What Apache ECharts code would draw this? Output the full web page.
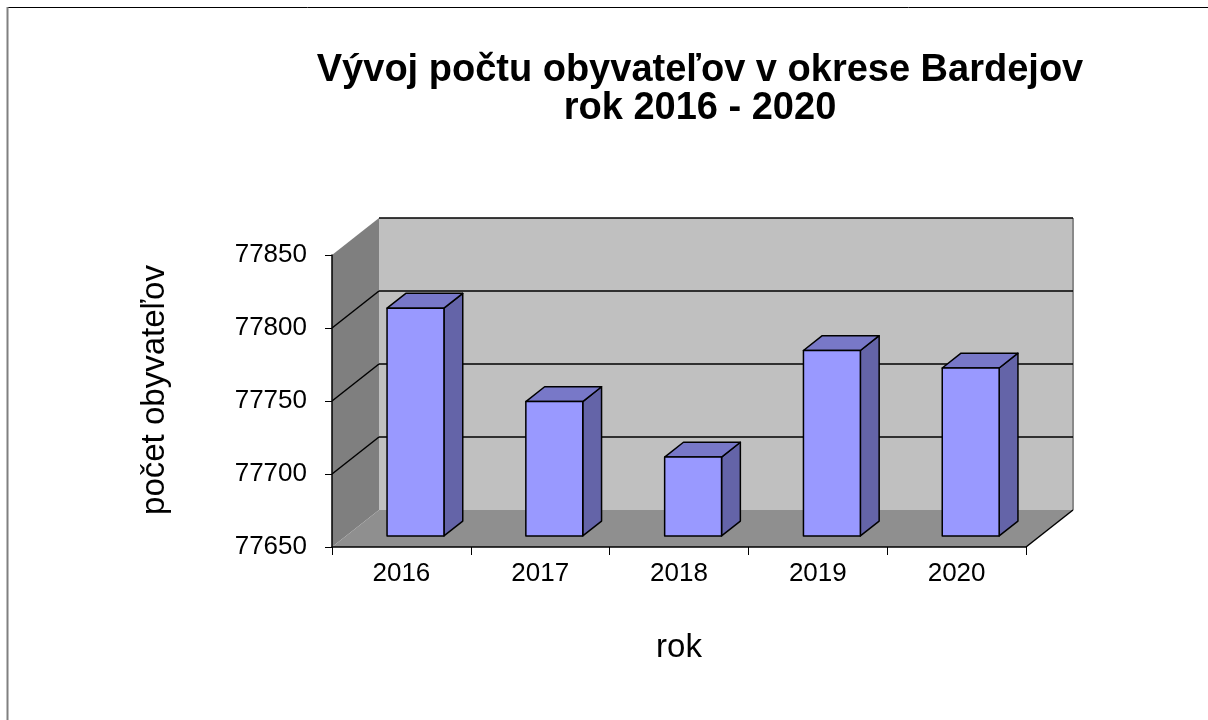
<!DOCTYPE html>
<html>
<head>
<meta charset="utf-8">
<script src="https://cdn.jsdelivr.net/npm/echarts@6/dist/echarts.min.js"></script>
<style>html,body{margin:0;padding:0;background:#fff}#c{width:1208px;height:720px}</style>
</head>
<body>
<div id="c"></div>
<script>
const titleLines = ['Vývoj počtu obyvateľov v okrese Bardejov', 'rok 2016 - 2020'];
const categories = ['2016', '2017', '2018', '2019', '2020'];
const values = [77806, 77742, 77704, 77777, 77765];
const yTicks = [77650, 77700, 77750, 77800, 77850];
const yName = 'počet obyvateľov';
const xName = 'rok';

const FONT = '"Liberation Sans", Arial, sans-serif';
const YMIN = yTicks[0], YMAX = yTicks[yTicks.length - 1];
const DX = 47, DY = -37;          // full depth offset of the 3D box
const F0 = 0.3, F1 = 0.7;         // bar depth range
const BARW = 0.41;                // bar width as fraction of band

const chart = echarts.init(document.getElementById('c'), null, { renderer: 'canvas' });

function wallsItem(params, api) {
  const band = api.size([1, 0])[0];
  const x0 = api.coord([0, YMIN])[0] - band / 2;
  const x1 = api.coord([categories.length - 1, YMIN])[0] + band / 2;
  const yB = api.coord([0, YMIN])[1];
  const yT = api.coord([0, YMAX])[1];
  const children = [];
  children.push({ type: 'polygon', shape: { points: [[x0, yT], [x0 + DX, yT + DY], [x0 + DX, yB + DY], [x0, yB]] }, style: { fill: '#7f7f7f' } });
  children.push({ type: 'polygon', shape: { points: [[x0 + DX, yT + DY], [x1 + DX, yT + DY], [x1 + DX, yB + DY], [x0 + DX, yB + DY]] }, style: { fill: '#c0c0c0' } });
  children.push({ type: 'polygon', shape: { points: [[x0, yB], [x0 + DX, yB + DY], [x1 + DX, yB + DY], [x1, yB]] }, style: { fill: '#8f8f8f' } });
  children.push({ type: 'line', shape: { x1: x1 + DX, y1: yT + DY, x2: x1 + DX, y2: yB + DY }, style: { stroke: '#8a8a8a', lineWidth: 2 } });
  yTicks.forEach(function (t) {
    if (t === YMIN) return;
    const y = api.coord([0, t])[1];
    children.push({ type: 'line', shape: { x1: x0 + DX, y1: y + DY, x2: x1 + DX, y2: y + DY }, style: { stroke: '#000', lineWidth: 1.5 } });
    if (t !== YMAX) {
      children.push({ type: 'line', shape: { x1: x0, y1: y, x2: x0 + DX, y2: y + DY }, style: { stroke: '#000', lineWidth: 1.5 } });
    }
  });
  children.push({ type: 'line', shape: { x1: x1, y1: yB, x2: x1 + DX, y2: yB + DY }, style: { stroke: '#000', lineWidth: 1.5 } });
  return { type: 'group', children: children };
}

function barItem(params, api) {
  const i = api.value(0), v = api.value(1);
  const band = api.size([1, 0])[0];
  const base = api.coord([i, YMIN]);
  const topY = api.coord([i, v])[1];
  const w = band * BARW;
  const xl = base[0] - w / 2 + DX * F0, xr = xl + w;
  const yb = base[1] + DY * F0, yt = topY + DY * F0;
  const ddx = DX * (F1 - F0), ddy = DY * (F1 - F0);
  const st = { stroke: '#000', lineWidth: 1.5, lineJoin: 'round' };
  return {
    type: 'group',
    children: [
      { type: 'polygon', shape: { points: [[xr, yb], [xr, yt], [xr + ddx, yt + ddy], [xr + ddx, yb + ddy]] }, style: Object.assign({ fill: '#6464a8' }, st) },
      { type: 'polygon', shape: { points: [[xl, yt], [xr, yt], [xr + ddx, yt + ddy], [xl + ddx, yt + ddy]] }, style: Object.assign({ fill: '#7878c8' }, st) },
      { type: 'rect', shape: { x: xl, y: yt, width: w, height: yb - yt }, style: Object.assign({ fill: '#9999ff' }, st) }
    ]
  };
}

const option = {
  backgroundColor: '#ffffff',
  animation: false,
  title: {
    text: titleLines.join('\n'),
    left: 695,
    top: 47,
    textAlign: 'center',
    textStyle: { fontFamily: FONT, fontSize: 38, fontWeight: 'bold', color: '#000', lineHeight: 38 }
  },
  grid: { left: 332, top: 255, width: 694, height: 292 },
  xAxis: {
    type: 'category',
    data: categories,
    z: 10,
    boundaryGap: true,
    name: xName,
    nameLocation: 'middle',
    nameGap: 84,
    nameTextStyle: { fontFamily: FONT, fontSize: 33, color: '#000' },
    axisLine: { show: true, lineStyle: { color: '#000', width: 1.5 } },
    axisTick: { show: true, length: 8, lineStyle: { color: '#000', width: 1 } },
    axisLabel: { fontFamily: FONT, fontSize: 26, color: '#000', margin: 14 },
    splitLine: { show: false }
  },
  yAxis: {
    type: 'value',
    min: YMIN,
    max: YMAX,
    interval: 50,
    z: 10,
    axisLine: { show: true, lineStyle: { color: '#000', width: 1.5 } },
    axisTick: { show: true, length: 7, lineStyle: { color: '#000', width: 1 } },
    axisLabel: { fontFamily: FONT, fontSize: 26, color: '#000', margin: 25, formatter: function (v) { return String(v); } },
    splitLine: { show: false }
  },
  graphic: [
    { type: 'line', shape: { x1: 7, y1: 7.5, x2: 1210, y2: 7.5 }, style: { stroke: '#000', lineWidth: 1 } },
    { type: 'line', shape: { x1: 7.5, y1: 7, x2: 7.5, y2: 722 }, style: { stroke: '#808080', lineWidth: 2 } },
    {
      type: 'text', x: 155, y: 390, rotation: Math.PI / 2,
      style: { text: yName, font: '33px ' + FONT, fill: '#000', align: 'center', verticalAlign: 'middle' }
    }
  ],
  series: [
    { type: 'custom', coordinateSystem: 'cartesian2d', renderItem: wallsItem, data: [[0, YMIN]], z: 1, silent: true, clip: false },
    { type: 'custom', coordinateSystem: 'cartesian2d', renderItem: barItem, data: values.map(function (v, i) { return [i, v]; }), z: 2, clip: false }
  ]
};
chart.setOption(option);
</script>
</body>
</html>
